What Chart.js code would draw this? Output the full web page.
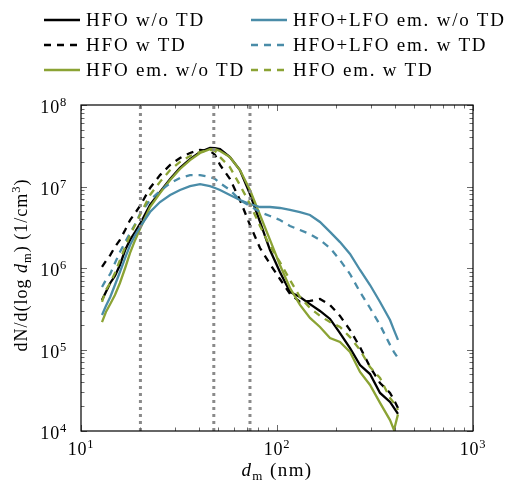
<!DOCTYPE html>
<html>
<head>
<meta charset="utf-8">
<script src="https://cdn.jsdelivr.net/npm/chart.js@4/dist/chart.umd.min.js"></script>
<style>
html,body{margin:0;padding:0;background:#fff;}
#wrap{position:relative;width:510px;height:488px;}
#legend{position:absolute;left:0;top:0;width:510px;height:90px;font-family:"Liberation Serif",serif;font-size:19px;color:#000;}
.item{position:absolute;height:24px;display:flex;align-items:center;white-space:nowrap;letter-spacing:1.8px;}
.item svg{margin-right:6px;flex:none;}
</style>
</head>
<body>
<div id="wrap">
<canvas id="c" width="510" height="488"></canvas>
<div id="legend"></div>
</div>
<script>
// Mobility diameter (nm)
const diameters = [12.8, 13.4, 14.1, 14.9, 15.8, 16.8, 17.8, 18.9, 20.0, 22.5, 25.3, 28.5, 32.0, 36.0, 40.5, 45.5, 48.3, 51.2, 57.5, 64.7, 72.8, 81.9, 92.1, 103.5, 116.5, 131.0, 147.3, 165.7, 186.4, 209.6, 235.8, 265.2, 298.3, 335.5, 377.3, 395.3, 414.2];

// dN/d(log dm) (1/cm^3)
const hfoWoTD = [4.05e5, 5.08e5, 6.55e5, 7.98e5, 1.09e6, 1.66e6, 2.21e6, 2.77e6, 3.47e6, 5.93e6, 8.57e6, 1.24e7, 1.69e7, 2.17e7, 2.65e7, 2.97e7, 2.95e7, 2.88e7, 2.30e7, 1.59e7, 8.09e6, 3.67e6, 1.66e6, 8.93e5, 5.08e5, 4.41e5, 3.61e5, 2.97e5, 2.37e5, 1.59e5, 1.04e5, 6.45e4, 5.00e4, 2.93e4, 2.27e4, 1.92e4, 1.62e4];
const hfoWTD = [1.03e6, 1.22e6, 1.44e6, 1.81e6, 2.21e6, 2.93e6, 3.88e6, 4.73e6, 5.77e6, 9.59e6, 1.38e7, 1.84e7, 2.24e7, 2.58e7, 2.81e7, 2.73e7, 2.44e7, 1.84e7, 1.24e7, 6.83e6, 3.37e6, 1.76e6, 1.12e6, 7.33e5, 4.80e5, 3.83e5, 3.94e5, 4.17e5, 3.52e5, 2.58e5, 1.73e5, 1.07e5, 6.10e4, 3.88e4, 2.93e4, 2.40e4, 1.92e4];
const hfoEmWoTD = [2.17e5, 2.88e5, 3.61e5, 4.67e5, 6.55e5, 1.00e6, 1.53e6, 2.21e6, 3.01e6, 5.60e6, 8.32e6, 1.20e7, 1.64e7, 2.11e7, 2.58e7, 2.88e7, 2.88e7, 2.73e7, 2.30e7, 1.59e7, 9.06e6, 4.47e6, 2.21e6, 1.09e6, 5.69e5, 3.52e5, 2.44e5, 1.89e5, 1.38e5, 1.24e5, 9.31e4, 5.30e4, 3.67e4, 2.21e4, 1.36e4, 1.03e4, 1.60e4];
const hfoLfoEmWoTD = [2.65e5, 3.42e5, 4.41e5, 6.18e5, 8.93e5, 1.33e6, 1.91e6, 2.54e6, 3.18e6, 4.86e6, 6.45e6, 7.87e6, 9.06e6, 1.01e7, 1.07e7, 1.01e7, 9.59e6, 9.06e6, 7.87e6, 6.83e6, 6.10e6, 5.60e6, 5.60e6, 5.45e6, 5.15e6, 4.86e6, 4.47e6, 3.67e6, 2.77e6, 2.08e6, 1.49e6, 9.45e5, 6.18e5, 3.83e5, 2.30e5, 1.73e5, 1.31e5];
const hfoLfoEmWTD = [5.85e5, 7.13e5, 8.44e5, 1.15e6, 1.57e6, 2.08e6, 2.69e6, 3.47e6, 4.60e6, 6.83e6, 8.81e6, 1.10e7, 1.27e7, 1.38e7, 1.38e7, 1.31e7, 1.24e7, 1.10e7, 9.06e6, 6.83e6, 5.77e6, 4.86e6, 4.35e6, 3.88e6, 3.28e6, 2.93e6, 2.61e6, 2.21e6, 1.76e6, 1.25e6, 8.44e5, 5.08e5, 3.23e5, 2.00e5, 1.14e5, 9.31e4, 7.87e4];
const hfoEmWTD = [3.83e5, 5.37e5, 6.55e5, 8.69e5, 1.25e6, 1.81e6, 2.54e6, 3.37e6, 4.47e6, 7.87e6, 1.14e7, 1.59e7, 2.00e7, 2.37e7, 2.65e7, 2.81e7, 2.73e7, 2.30e7, 1.73e7, 1.04e7, 6.10e6, 3.28e6, 1.86e6, 1.18e6, 7.13e5, 4.41e5, 3.23e5, 2.58e5, 2.17e5, 1.89e5, 1.42e5, 9.86e4, 6.10e4, 4.47e4, 2.54e4, 2.21e4, 1.81e4];

// Vertical reference diameters (nm)
const markerDiameters = [20.1, 47.6, 72.8];

const seriesNames = ["HFO w/o TD", "HFO w TD", "HFO em. w/o TD", "HFO+LFO em. w/o TD", "HFO+LFO em. w TD", "HFO em. w TD"];
const seriesValues = [hfoWoTD, hfoWTD, hfoEmWoTD, hfoLfoEmWoTD, hfoLfoEmWTD, hfoEmWTD];

const xLimits = [10, 1000];
const yLimits = [1e4, 1e8];

const BLACK = '#000000', BLUE = '#4a8ca8', GREEN = '#8ba334', GRAY = '#8a8a8a';
const styles = [
  {color: BLACK, dash: []},
  {color: BLACK, dash: [7, 6]},
  {color: GREEN, dash: []},
  {color: BLUE, dash: []},
  {color: BLUE, dash: [7, 6]},
  {color: GREEN, dash: [7, 6]}
];

function isPow10(v){ const e = Math.log10(v); return Math.abs(e - Math.round(e)) < 1e-9; }
function logTicks(lo, hi){ const t=[]; const e0=Math.round(Math.log10(lo)), e1=Math.round(Math.log10(hi)); for(let e=e0;e<e1;e++){ for(let m=1;m<10;m++) t.push({value: m*Math.pow(10,e)}); } t.push({value: Math.pow(10,e1)}); return t; }

const datasets = seriesNames.map((name, i) => ({
  label: name,
  data: diameters.map((d, k) => ({x: d, y: seriesValues[i][k]})),
  borderColor: styles[i].color,
  backgroundColor: styles[i].color,
  borderDash: styles[i].dash,
  borderWidth: 2.3,
  pointRadius: 0,
  tension: 0,
  fill: false,
  order: 20 - i,
  clip: 0
}));
markerDiameters.forEach((d) => {
  datasets.push({
    label: '',
    data: [{x: d, y: yLimits[0]}, {x: d, y: yLimits[1]}],
    borderColor: GRAY,
    borderDash: [3, 4],
    borderWidth: 3,
    pointRadius: 0,
    fill: false,
    order: 1
  });
});

const SERIF = '"Liberation Serif", serif';
// Rich text helper: segments of {t, size, italic, dy}
function segFont(s){ return (s.italic ? 'italic ' : '') + s.size + 'px ' + SERIF; }
function segW(ctx, s, ls){ ctx.font = segFont(s); ctx.letterSpacing = '0px'; return ctx.measureText(s.t).width + ls * s.t.length; }
function richWidth(ctx, segs, ls){ let w = 0; segs.forEach(s => { w += segW(ctx, s, ls); }); return w; }
function drawRich(ctx, segs, x, y, ls){ let cx = x; segs.forEach(s => { const w = segW(ctx, s, ls); ctx.font = segFont(s); ctx.letterSpacing = ls + 'px'; ctx.fillText(s.t, cx, y + (s.dy || 0)); cx += w; }); ctx.letterSpacing = '0px'; }
function powSegs(v){ const e = String(Math.round(Math.log10(v))); return [{t:'10', size:18}, {t:e, size:12.5, dy:-7}]; }

const xTitleSegs = [{t:'d', size:19, italic:true}, {t:'m', size:13, dy:3.5}, {t:' (nm)', size:19}];
const yTitleSegs = [{t:'dN/d(log ', size:18}, {t:'d', size:18, italic:true}, {t:'m', size:12.5, dy:3.5}, {t:') (1/cm', size:18}, {t:'3', size:12.5, dy:-7}, {t:')', size:18}];

const framePlugin = {
  id: 'frame',
  afterDatasetsDraw(chart){
    const {ctx, chartArea: a, scales: {x, y}} = chart;
    ctx.save();
    ctx.strokeStyle = '#6a6a6a';
    ctx.lineWidth = 1;
    ctx.beginPath();
    x.ticks.forEach(t => {
      const px = Math.round(x.getPixelForValue(t.value)) + 0.5;
      const len = isPow10(t.value) ? 6 : 3.5;
      ctx.moveTo(px, a.bottom); ctx.lineTo(px, a.bottom - len);
      ctx.moveTo(px, a.top); ctx.lineTo(px, a.top + len);
    });
    y.ticks.forEach(t => {
      const py = Math.round(y.getPixelForValue(t.value)) + 0.5;
      const len = isPow10(t.value) ? 6 : 3.5;
      ctx.moveTo(a.left, py); ctx.lineTo(a.left + len, py);
      ctx.moveTo(a.right, py); ctx.lineTo(a.right - len, py);
    });
    ctx.stroke();
    ctx.strokeStyle = '#000';
    ctx.lineWidth = 1.2;
    ctx.strokeRect(a.left, a.top, a.right - a.left, a.bottom - a.top);

    // tick labels
    ctx.fillStyle = '#000';
    ctx.textBaseline = 'alphabetic';
    ctx.textAlign = 'left';
    x.ticks.forEach(t => {
      if (!isPow10(t.value)) return;
      const segs = powSegs(t.value);
      const w = richWidth(ctx, segs, 0.8);
      const px = x.getPixelForValue(t.value);
      drawRich(ctx, segs, px - w / 2, a.bottom + 24, 0.8);
    });
    y.ticks.forEach(t => {
      if (!isPow10(t.value)) return;
      const segs = powSegs(t.value);
      const w = richWidth(ctx, segs, 0.8);
      const py = y.getPixelForValue(t.value);
      drawRich(ctx, segs, a.left - 14 - w, py + 8, 0.8);
    });
    // axis titles
    const wx = richWidth(ctx, xTitleSegs, 1.4);
    drawRich(ctx, xTitleSegs, (a.left + a.right) / 2 - wx / 2, 476, 1.4);
    ctx.save();
    ctx.translate(27, (a.top + a.bottom) / 2 - 3);
    ctx.rotate(-Math.PI / 2);
    const wy = richWidth(ctx, yTitleSegs, 1);
    drawRich(ctx, yTitleSegs, -wy / 2, 0, 1);
    ctx.restore();
    ctx.restore();
  }
};

const chart = new Chart(document.getElementById('c'), {
  type: 'line',
  data: {datasets},
  options: {
    responsive: false,
    animation: false,
    layout: {padding: {left: 0, top: 105, right: 37, bottom: 0}},
    plugins: {legend: {display: false}, tooltip: {enabled: false}},
    scales: {
      x: {
        type: 'logarithmic', min: xLimits[0], max: xLimits[1],
        grid: {display: false, drawTicks: false},
        border: {display: false},
        afterBuildTicks: s => { s.ticks = logTicks(xLimits[0], xLimits[1]); },
        afterFit: s => { s.height = 57; },
        ticks: {display: false, autoSkip: false}
      },
      y: {
        type: 'logarithmic', min: yLimits[0], max: yLimits[1],
        grid: {display: false, drawTicks: false},
        border: {display: false},
        afterBuildTicks: s => { s.ticks = logTicks(yLimits[0], yLimits[1]); },
        afterFit: s => { s.width = 81; },
        ticks: {display: false, autoSkip: false}
      }
    }
  },
  plugins: [framePlugin]
});

// Legend (2 columns x 3 rows, row-major as in the reference)
const legendOrder = [0, 3, 1, 4, 2, 5];
const colLeft = [44, 251];
const rowTop = [8, 33, 58];
const leg = document.getElementById('legend');
legendOrder.forEach((si, k) => {
  const col = k % 2, row = Math.floor(k / 2);
  const st = styles[si];
  const div = document.createElement('div');
  div.className = 'item';
  div.style.left = colLeft[col] + 'px';
  div.style.top = rowTop[row] + 'px';
  const dashAttr = st.dash.length ? ` stroke-dasharray="${st.dash.join(' ')}"` : '';
  div.innerHTML = `<svg width="36" height="10"><line x1="0" y1="5" x2="36" y2="5" stroke="${st.color}" stroke-width="2.4"${dashAttr}/></svg><span>${seriesNames[si]}</span>`;
  leg.appendChild(div);
});
</script>
</body>
</html>
